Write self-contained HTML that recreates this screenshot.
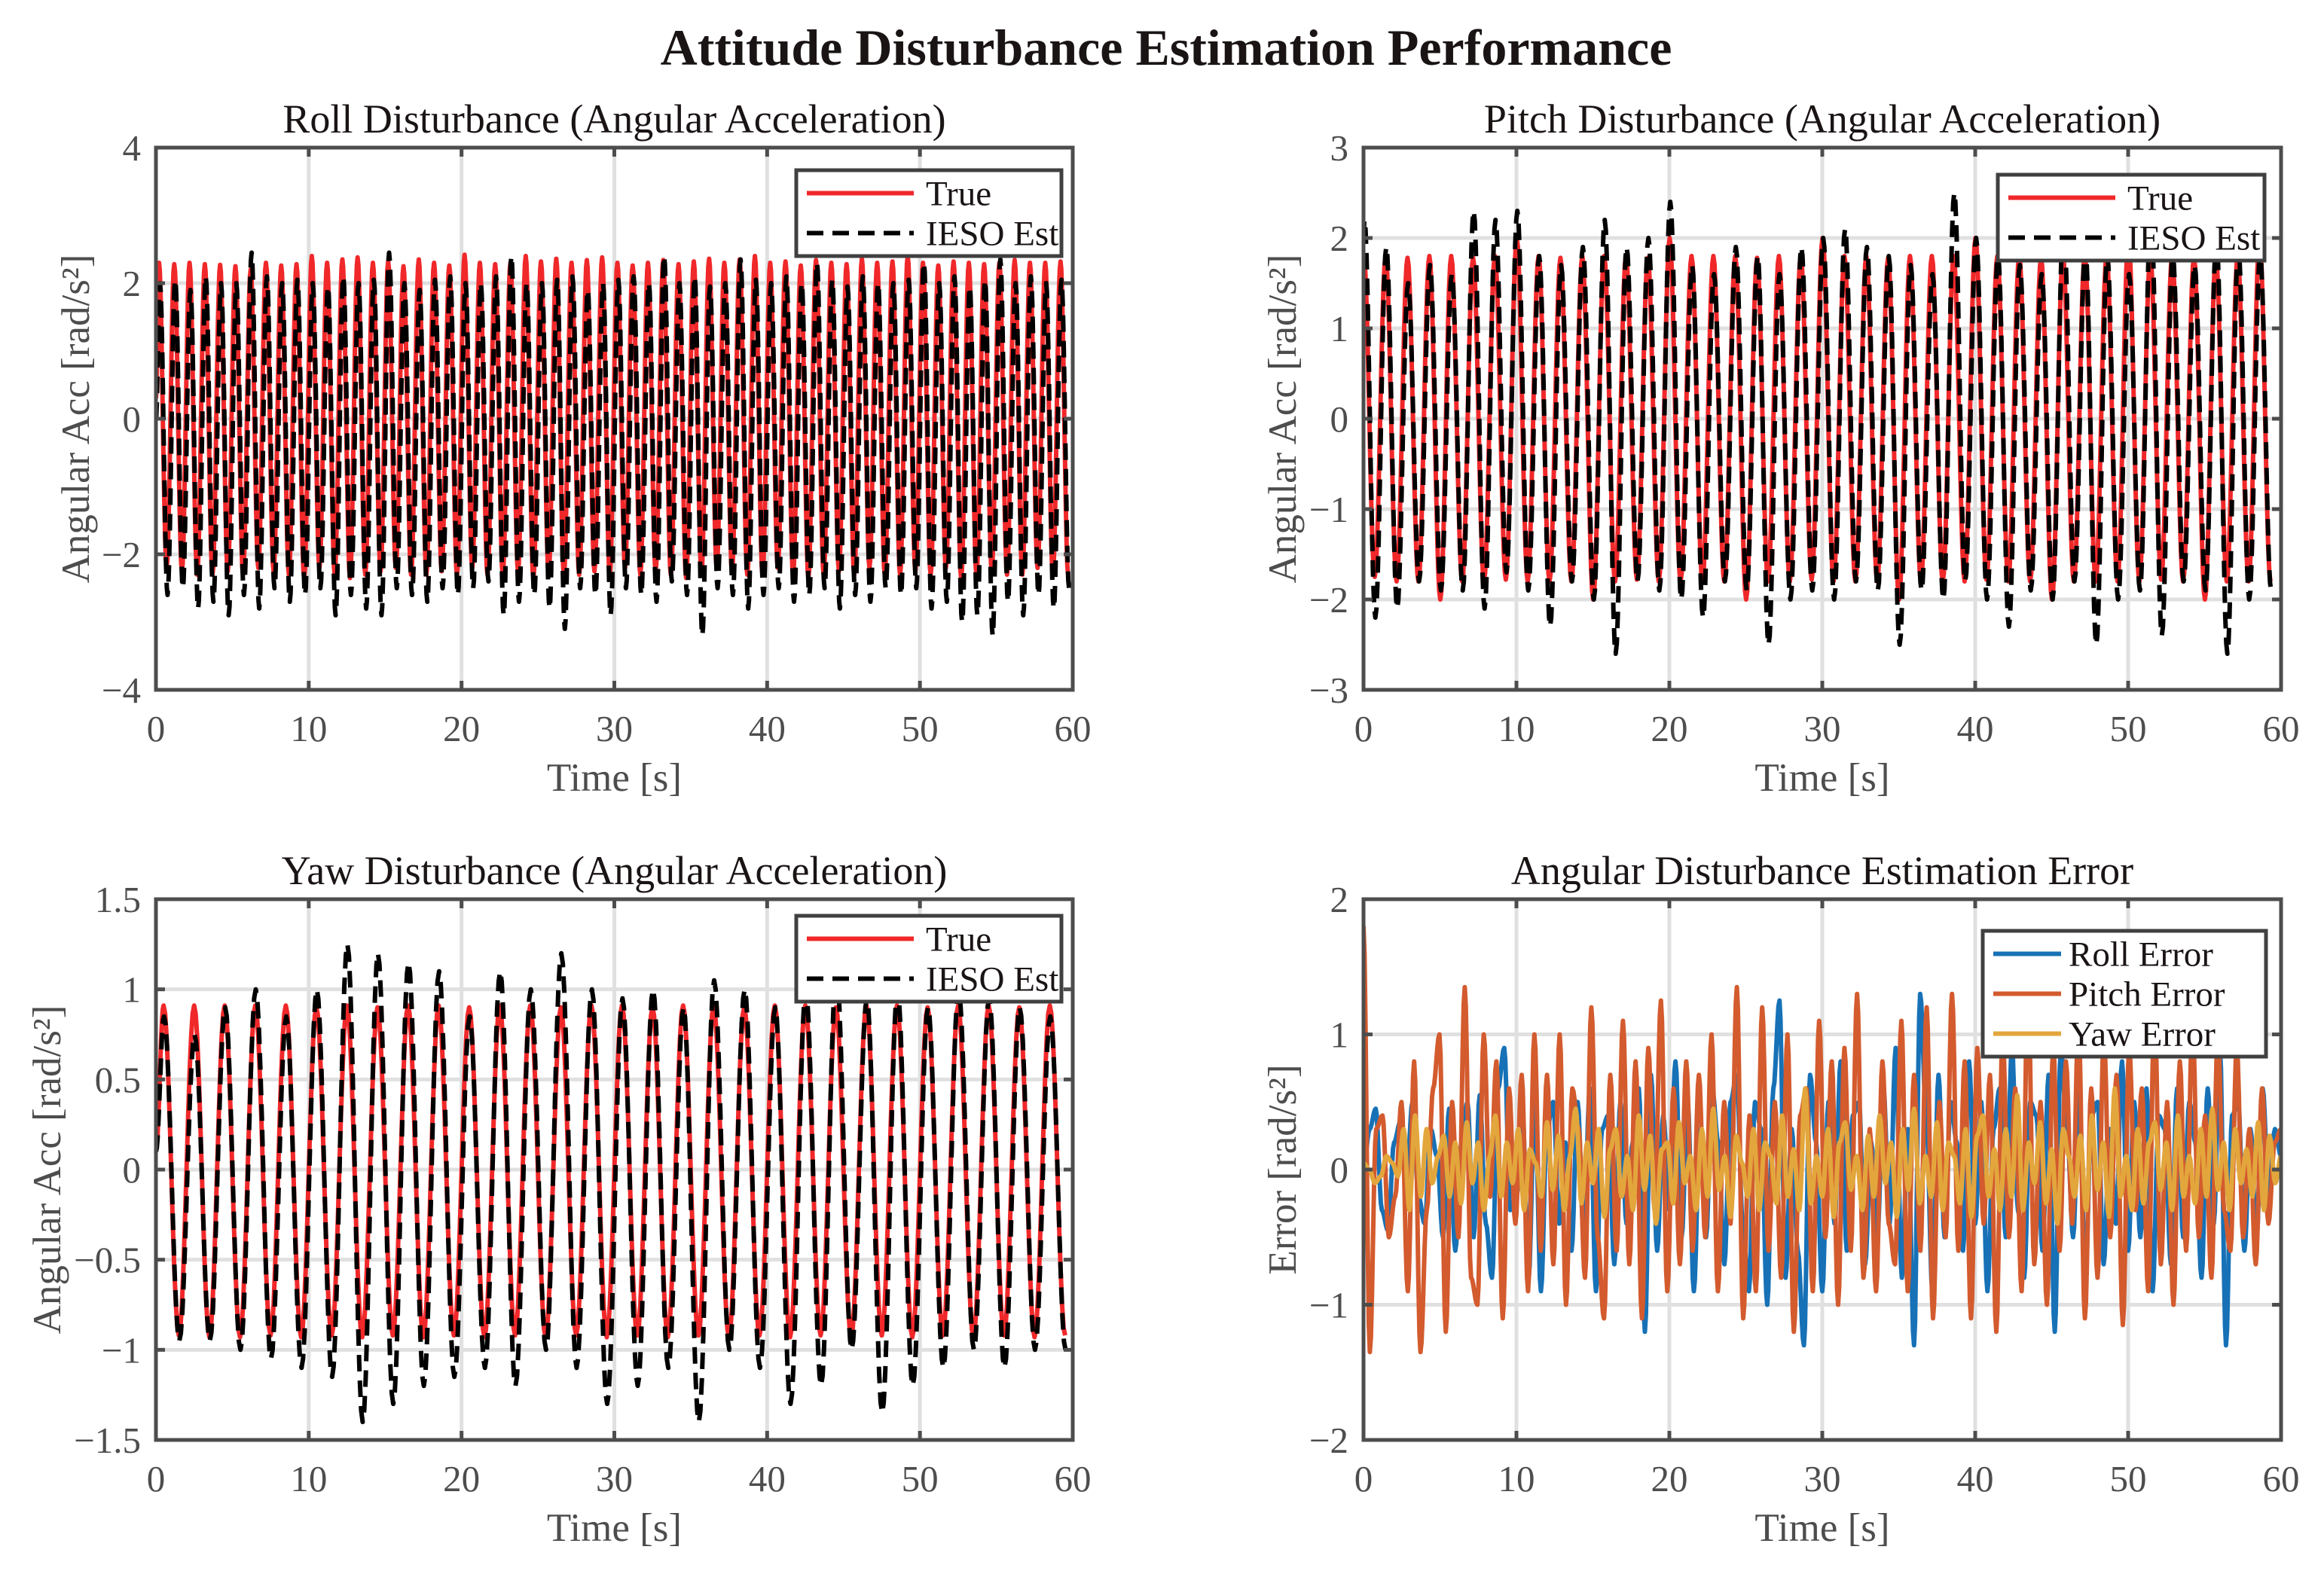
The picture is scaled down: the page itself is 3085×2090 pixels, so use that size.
<!DOCTYPE html>
<html><head><meta charset="utf-8"><title>Attitude Disturbance Estimation Performance</title>
<style>
html,body{margin:0;padding:0;background:#fff;}
svg{display:block;}
text{font-family:"Liberation Serif","Times New Roman",serif;}
</style></head>
<body>
<svg id="fig" width="3085" height="2090" viewBox="0 0 3085 2090" xmlns="http://www.w3.org/2000/svg">
<rect x="0" y="0" width="3085" height="2090" fill="#fff"/>
<text x="1548" y="86" text-anchor="middle" font-size="68" font-weight="bold" fill="#1a1414">Attitude Disturbance Estimation Performance</text>
</svg>
<script>
// ---------- data ----------
const timeTicks = [0,10,20,30,40,50,60];
const rollTicks = [-4,-2,0,2,4];
const pitchTicks = [-3,-2,-1,0,1,2,3];
const yawTicks = [-1.5,-1,-0.5,0,0.5,1,1.5];
const errTicks = [-2,-1,0,1,2];

const rollTruePk = [2.3,2.28,2.3,2.28,2.27,2.25,2.2,2.3,2.26,2.28,2.4,2.3,2.35,2.38,2.3,2.32,2.25,2.35,2.3,2.26,2.42,2.3,2.28,2.3,2.4,2.32,2.36,2.3,2.34,2.38,2.3,2.26,2.3,2.34,2.28,2.32,2.36,2.3,2.35,2.4,2.3,2.32,2.26,2.34,2.3,2.28,2.36,2.3,2.32,2.4,2.3,2.26,2.32,2.3,2.28,2.3,2.34,2.3,2.3,2.32];
const rollTrueTr = [-2.2,-2.25,-2.3,-2.3,-2.25,-2.3,-2.2,-2.25,-2.3,-2.35,-2.2,-2.3,-2.35,-2.3,-2.25,-2.2,-2.3,-2.3,-2.25,-2.3,-2.2,-2.3,-2.3,-2.25,-2.35,-2.3,-2.3,-2.3,-2.25,-2.3,-2.2,-2.3,-2.25,-2.3,-2.35,-2.3,-2.2,-2.25,-2.3,-2.3,-2.2,-2.3,-2.35,-2.3,-2.25,-2.3,-2.2,-2.3,-2.3,-2.25,-2.3,-2.2,-2.35,-2.3,-2.25,-2.3,-2.3,-2.2,-2.3,-2.3];
const rollEstPk = [2.0,2.05,1.9,2.1,2.0,2.0,2.45,2.1,2.0,2.05,2.0,1.95,2.1,2.0,2.05,2.45,2.0,1.9,2.05,2.1,2.0,2.0,2.1,2.4,2.0,2.0,2.05,2.1,1.9,2.0,2.05,2.1,2.0,2.4,2.0,2.1,1.95,2.0,2.35,2.05,2.0,2.1,2.0,2.3,2.05,1.95,2.1,2.0,2.0,2.05,2.3,2.0,2.1,1.95,2.05,2.35,2.0,2.1,2.0,2.05];
const rollEstTr = [-2.6,-2.5,-2.8,-2.7,-2.9,-2.6,-2.8,-2.5,-2.7,-2.6,-2.5,-2.9,-2.6,-2.8,-2.9,-2.5,-2.6,-2.7,-2.5,-2.6,-2.5,-2.4,-2.9,-2.7,-2.6,-2.8,-3.1,-2.5,-2.6,-2.9,-2.5,-2.6,-2.7,-2.4,-2.6,-3.2,-2.5,-2.6,-2.8,-2.6,-2.5,-2.7,-2.6,-2.5,-2.8,-2.6,-2.7,-2.5,-2.6,-2.5,-2.8,-2.7,-3.0,-2.9,-3.2,-2.7,-2.9,-2.6,-2.8,-2.5];

const pitchTruePk = [1.8,1.8,1.78,1.8,1.8,1.78,1.8,2.0,1.8,1.78,1.8,1.8,1.8,1.78,2.0,1.8,1.8,1.8,1.78,1.8,1.8,2.0,1.8,1.8,1.78,1.8,1.8,1.8,2.0,1.8,1.8,1.78,1.8,1.8,1.8,2.0,1.8,1.8,1.78,1.8,1.8,2.0];
const pitchTrueTr = [-1.75,-1.8,-1.8,-2.0,-1.8,-1.8,-1.78,-1.8,-1.8,-1.8,-2.0,-1.8,-1.78,-1.8,-1.8,-1.8,-1.8,-2.0,-1.8,-1.8,-1.78,-1.8,-1.8,-1.8,-2.0,-1.8,-1.8,-1.8,-1.78,-1.8,-1.8,-2.0,-1.8,-1.8,-1.8,-1.8,-1.78,-1.8,-2.0,-1.8,-1.8,-1.8];
const pitchEstPk = [2.2,1.9,1.5,1.7,1.6,2.3,2.2,2.3,1.8,1.7,1.9,2.2,1.9,2.0,2.4,1.7,1.6,1.9,1.8,1.6,1.9,2.0,2.1,1.9,1.8,1.7,1.6,2.5,2.0,1.8,1.7,1.6,2.2,1.9,1.8,1.6,2.3,1.8,1.7,2.0,1.9,1.8];
const pitchEstTr = [-2.2,-2.1,-1.8,-1.9,-1.9,-2.1,-1.7,-1.9,-2.3,-1.8,-2.0,-2.6,-1.8,-1.9,-2.0,-2.2,-1.8,-1.9,-2.5,-2.0,-1.9,-2.0,-1.8,-1.9,-2.5,-1.9,-2.0,-1.8,-2.0,-2.3,-1.9,-2.0,-1.8,-2.5,-2.0,-1.9,-2.4,-1.8,-1.9,-2.6,-2.0,-1.9];

const yawTruePk = [0.91,0.91,0.91,0.91,0.91,0.9,0.91,0.9,0.91,0.91,0.9,0.91,0.91,0.9,0.91,0.91,0.9,0.91,0.91,0.9,0.91,0.91,0.9,0.91,0.91,0.9,0.91,0.91,0.9,0.91];
const yawTrueTr = [-0.92,-0.93,-0.93,-0.92,-0.93,-0.92,-0.93,-0.92,-0.93,-0.92,-0.93,-0.92,-0.93,-0.92,-0.93,-0.92,-0.93,-0.92,-0.93,-0.92,-0.93,-0.92,-0.93,-0.92,-0.93,-0.92,-0.93,-0.92,-0.93,-0.92];
const yawEstPk = [0.85,0.75,0.9,1.0,0.85,1.0,1.25,1.2,1.15,1.1,0.85,1.1,1.0,1.2,1.0,0.95,1.0,0.9,1.05,1.0,0.9,1.0,1.1,0.95,1.0,0.9,1.0,0.95,0.9,0.85];
const yawEstTr = [-0.95,-0.95,-1.0,-1.05,-1.1,-1.15,-1.4,-1.3,-1.2,-1.15,-1.1,-1.2,-1.0,-1.1,-1.3,-1.2,-1.1,-1.4,-1.0,-1.1,-1.3,-1.2,-1.0,-1.35,-1.2,-1.1,-1.0,-1.1,-1.0,-1.0];

const rollErr = [0,0.3,0.45,-0.3,-0.45,0.2,0.35,-0.1,0.5,-0.2,-0.4,0.3,0.1,-0.5,0.45,-0.6,0.2,0.5,-0.5,0.55,-0.4,-0.8,0.6,0.9,-0.3,-0.2,0.4,-0.8,0.55,-0.9,0.3,0.5,-0.4,0.2,-0.6,0.5,-0.5,0.6,-0.9,0.3,0.4,-0.7,0.5,-0.4,0.2,0.6,-1.2,0.7,-0.6,0.4,-0.3,0.8,-0.5,0.5,-0.9,0.3,-0.5,0.6,0.2,-0.7,0.5,0.7,-0.4,-0.9,0.5,0.3,-1.0,0.6,1.25,-0.8,0.3,-0.6,-1.3,0.7,0.2,-0.9,0.5,-0.4,0.8,-0.6,0.4,0.5,-0.7,0.2,-0.5,0.6,-0.4,0.9,-0.8,0.3,-1.3,1.3,0.4,-0.9,0.7,-0.5,0.5,0.2,-0.6,0.8,-0.4,0.5,-0.9,0.3,0.6,-0.5,0.9,-0.3,-0.8,0.5,0.4,-0.6,0.7,-1.2,0.9,0.3,-0.5,0.6,-0.8,0.4,0.5,-0.7,0.3,-0.4,0.8,-0.6,0.5,-0.5,0.6,-0.9,0.4,0.3,-0.7,0.6,-0.5,0.5,0.2,-0.8,0.6,-0.4,0.9,-1.3,0.4,0.5,-0.6,0.3,-0.5,0.6,-0.2,0.3,0.1];
const pitchErr = [1.8,-1.35,0.3,0.4,-0.5,-0.2,0.5,-0.9,0.8,-1.35,-0.3,0.6,1.0,-1.2,0.5,-0.5,1.35,-0.8,-1.0,1.0,-0.2,0.8,-1.1,0.6,-0.4,0.7,-0.9,1.0,-0.6,0.7,-0.7,1.0,-1.0,0.6,0.3,-0.8,1.2,-0.5,-1.1,0.7,-0.6,1.1,-0.7,0.8,-1.1,0.9,-0.3,1.25,-0.9,0.6,-0.7,0.8,-0.6,0.7,-0.5,1.0,-0.9,0.5,-0.4,1.35,-1.1,0.4,-0.9,1.2,-0.6,0.5,-0.8,1.0,-1.2,0.4,0.6,-0.9,1.1,-0.5,0.8,-1.0,0.9,-0.6,1.3,-0.8,0.3,-0.9,0.8,-0.4,-0.7,1.1,-0.9,0.7,-0.6,1.2,-1.1,0.5,-0.5,1.3,-0.6,0.8,-1.1,0.9,-0.4,0.7,-1.2,1.0,-0.5,0.6,-0.9,1.35,-0.7,0.5,-1.0,0.9,-0.6,0.8,-0.4,1.1,-1.1,0.6,-0.8,1.0,-0.5,0.7,-1.15,0.9,-0.3,0.6,-0.9,1.2,-0.7,0.5,-1.0,0.8,-0.6,1.1,-0.5,0.4,-0.8,1.0,-0.3,-0.6,0.9,-0.5,0.3,-0.7,0.6,-0.4,0.2,0.3];
const yawErr = [0.05,0.0,-0.1,-0.05,0.1,0.05,-0.05,0.3,-0.3,0.4,-0.2,0.3,-0.1,0.1,0.25,-0.2,0.2,-0.25,0.35,-0.1,0.2,-0.3,0.1,0.4,-0.2,0.2,-0.1,0.3,-0.3,0.15,0.05,-0.2,0.35,-0.15,0.25,-0.3,0.1,0.45,-0.25,0.2,-0.1,0.3,-0.35,0.15,0.3,-0.2,0.1,-0.3,0.4,-0.15,0.25,-0.4,0.15,0.2,-0.25,0.35,-0.1,0.1,-0.3,0.3,-0.2,0.45,-0.15,0.1,-0.35,0.25,0.05,-0.2,0.3,-0.3,0.2,0.1,-0.25,0.4,-0.2,0.15,-0.3,0.6,-0.25,0.1,-0.2,0.3,-0.35,0.2,0.35,-0.15,0.1,-0.3,0.25,-0.2,0.4,-0.1,0.2,-0.35,0.3,-0.15,0.45,-0.25,0.1,-0.2,0.35,-0.3,0.2,0.1,-0.25,0.3,-0.35,0.25,0.4,-0.2,0.15,-0.3,0.3,-0.2,0.55,-0.3,0.2,-0.1,0.35,-0.25,0.15,-0.4,0.3,0.1,-0.2,0.25,-0.3,0.4,-0.15,0.2,-0.35,0.6,-0.2,0.1,-0.3,0.3,-0.25,0.2,0.35,-0.15,0.2,-0.3,0.4,-0.2,0.1,-0.25,0.3,-0.2,0.45,-0.15,0.2,-0.3,0.3,-0.1,0.15,-0.2,0.35,-0.3,0.25,-0.1,0.1];

// ---------- helpers ----------
const NS = "http://www.w3.org/2000/svg";
const svg = document.getElementById('fig');
function el(tag, attrs, parent, txt){
  const e = document.createElementNS(NS, tag);
  for (const k in attrs) e.setAttribute(k, attrs[k]);
  if (txt !== undefined) e.textContent = txt;
  (parent||svg).appendChild(e);
  return e;
}
function fmt(v){ return (v<0?'\u2212':'') + String(Math.abs(v)); }

function makeAxes(o){
  const g = el('g', {});
  
  
  const sx = t => o.x0 + (t-0)/(60-0)*(o.x1-o.x0);
  const sy = v => o.y1 - (v-o.ymin)/(o.ymax-o.ymin)*(o.y1-o.y0);
  timeTicks.forEach(t=>{
    const l = el('line',{x1:sx(t),x2:sx(t),y1:o.y0,y2:o.y1,stroke:'#e0e0e0','stroke-width':5},g);
    
    
  });
  o.yticks.forEach(v=>{
    const l = el('line',{x1:o.x0,x2:o.x1,y1:sy(v),y2:sy(v),stroke:'#e0e0e0','stroke-width':5},g);
    
    
  });
  const clipId = 'clip-'+o.name;
  const cp = el('clipPath',{id:clipId},g);
  el('rect',{x:o.x0,y:o.y0,width:o.x1-o.x0,height:o.y1-o.y0},cp);
  const plot = el('g',{'clip-path':'url(#'+clipId+')'},g);
  
  
  const fr = el('rect',{x:o.x0,y:o.y0,width:o.x1-o.x0,height:o.y1-o.y0,fill:'none',stroke:'#4d4d4d','stroke-width':5},g);
  
  
  timeTicks.forEach(t=>{
    el('line',{x1:sx(t),x2:sx(t),y1:o.y1,y2:o.y1-12,stroke:'#4d4d4d','stroke-width':5},g);
    el('line',{x1:sx(t),x2:sx(t),y1:o.y0,y2:o.y0+12,stroke:'#4d4d4d','stroke-width':5},g);
    const tx = el('text',{x:sx(t),y:o.y1+68,'text-anchor':'middle','font-size':49,fill:'#4d4d4d'},g,String(t));
    
    
  });
  o.yticks.forEach(v=>{
    el('line',{x1:o.x0,x2:o.x0+12,y1:sy(v),y2:sy(v),stroke:'#4d4d4d','stroke-width':5},g);
    el('line',{x1:o.x1,x2:o.x1-12,y1:sy(v),y2:sy(v),stroke:'#4d4d4d','stroke-width':5},g);
    const tx = el('text',{x:o.x0-20,y:sy(v)+17,'text-anchor':'end','font-size':49,fill:'#4d4d4d'},g,fmt(v));
    
    
  });
  const xt = el('text',{x:(o.x0+o.x1)/2,y:o.y1+134,'text-anchor':'middle','font-size':53,fill:'#4d4d4d'},g,'Time [s]');
  
  
  const yc = (o.y0+o.y1)/2;
  const yt = el('text',{x:o.ylx,y:yc,'text-anchor':'middle','font-size':53,fill:'#4d4d4d',transform:'rotate(-90 '+o.ylx+' '+yc+')'},g,o.ylabel);
  
  
  const tt = el('text',{x:(o.x0+o.x1)/2,y:o.y0-20,'text-anchor':'middle','font-size':54,fill:'#1a1414'},g,o.title);
  
  
  return {g, plot, sx, sy};
}

function drawOsc(ax, name, startVal, t0, half, pk, tr, color, width, dash){
  const ext = [[0,startVal]];
  const n = Math.min(pk.length, tr.length);
  for (let i=0;i<n;i++){
    ext.push([t0 + 2*i*half, pk[i]]);
    ext.push([t0 + (2*i+1)*half, tr[i]]);
  }
  let d = '';
  for (let k=0;k<ext.length-1;k++){
    const [ta,va]=ext[k],[tb,vb]=ext[k+1];
    const steps = 10;
    for (let s=(k===0?0:1); s<=steps; s++){
      const f = s/steps;
      const w = (1-Math.cos(Math.PI*f))/2;
      const t = ta+(tb-ta)*f, v = va+(vb-va)*w;
      d += (d===''?'M':'L') + ax.sx(t).toFixed(1)+','+ax.sy(v).toFixed(1);
    }
  }
  const p = el('path',{d, fill:'none', stroke:color,'stroke-width':width,'stroke-linejoin':'round'},ax.plot);
  if (dash) p.setAttribute('stroke-dasharray', dash);
  
  
}
function drawSeries(ax, name, vals, color, width){
  let d='';
  const n = vals.length;
  const dt = 60/(n-1);
  for (let i=0;i<n-1;i++){
    const steps = 6;
    for (let s=(i===0?0:1); s<=steps; s++){
      const f = s/steps, w = (1-Math.cos(Math.PI*f))/2;
      const t = (i+f)*dt, v = vals[i]+(vals[i+1]-vals[i])*w;
      d += (d===''?'M':'L') + ax.sx(t).toFixed(1)+','+ax.sy(v).toFixed(1);
    }
  }
  const p = el('path',{d, fill:'none', stroke:color,'stroke-width':width,'stroke-linejoin':'round'},ax.plot);
  
  
}
function legend(x, y, w, lineLen, textX, entries){
  const rowH = 53;
  const g = el('g',{});
  
  
  el('rect',{x, y, width:w, height:rowH*entries.length+8, fill:'#fff', stroke:'#404040','stroke-width':5},g);
  entries.forEach((e,i)=>{
    const cy = y + 4 + rowH*i + rowH/2;
    const ln = el('line',{x1:x+14,x2:x+14+lineLen,y1:cy,y2:cy,stroke:e.color,'stroke-width':6},g);
    if (e.dash) ln.setAttribute('stroke-dasharray', e.dash);
    const tx = el('text',{x:x+textX,y:cy+16,'font-size':47,fill:'#1a1414'},g,e.label);
    
    
  });
}

const RED='#f0282a', BLK='#000000', DASH='22 12';

const axRoll = makeAxes({name:'roll-axes',x0:207,x1:1424,y0:196,y1:916,ymin:-4,ymax:4,yticks:rollTicks,ylabel:'Angular Acc [rad/s\u00b2]',ylx:118,title:'Roll Disturbance (Angular Acceleration)'});
drawOsc(axRoll,'roll-true-line',0.3,0.2,0.5,rollTruePk,rollTrueTr,RED,6,null);
drawOsc(axRoll,'roll-est-line',0.0,0.26,0.5,rollEstPk,rollEstTr,BLK,6,DASH);
legend(1057,226,352,142,172,[{label:'True',color:RED},{label:'IESO Est',color:BLK,dash:DASH}]);

const axPitch = makeAxes({name:'pitch-axes',x0:1810,x1:3028,y0:196,y1:916,ymin:-3,ymax:3,yticks:pitchTicks,ylabel:'Angular Acc [rad/s\u00b2]',ylx:1720,title:'Pitch Disturbance (Angular Acceleration)'});
drawOsc(axPitch,'pitch-true-line',1.6,0.02,60/84,pitchTruePk,pitchTrueTr,RED,6,null);
drawOsc(axPitch,'pitch-est-line',2.0,0.06,60/84,pitchEstPk,pitchEstTr,BLK,6,DASH);
legend(2652,232,354,142,172,[{label:'True',color:RED},{label:'IESO Est',color:BLK,dash:DASH}]);

const axYaw = makeAxes({name:'yaw-axes',x0:207,x1:1424,y0:1194,y1:1912,ymin:-1.5,ymax:1.5,yticks:yawTicks,ylabel:'Angular Acc [rad/s\u00b2]',ylx:80,title:'Yaw Disturbance (Angular Acceleration)'});
drawOsc(axYaw,'yaw-true-line',0.1,0.5,1.0,yawTruePk,yawTrueTr,RED,6,null);
drawOsc(axYaw,'yaw-est-line',0.1,0.53,1.0,yawEstPk,yawEstTr,BLK,6,DASH);
legend(1057,1216,352,142,172,[{label:'True',color:RED},{label:'IESO Est',color:BLK,dash:DASH}]);

const axErr = makeAxes({name:'error-axes',x0:1810,x1:3028,y0:1194,y1:1912,ymin:-2,ymax:2,yticks:errTicks,ylabel:'Error [rad/s\u00b2]',ylx:1720,title:'Angular Disturbance Estimation Error'});
drawSeries(axErr,'roll-error-line',rollErr,'#1771b6',6);
drawSeries(axErr,'pitch-error-line',pitchErr,'#d35b2e',6);
drawSeries(axErr,'yaw-error-line',yawErr,'#e3a63c',6);
legend(2632,1236,376,90,114,[{label:'Roll Error',color:'#1771b6'},{label:'Pitch Error',color:'#d35b2e'},{label:'Yaw Error',color:'#e3a63c'}]);
</script>
</body></html>
